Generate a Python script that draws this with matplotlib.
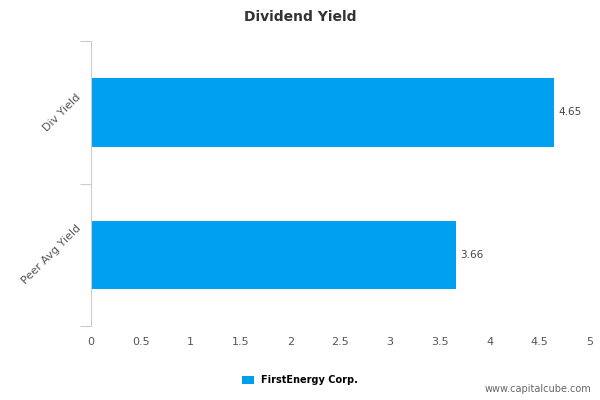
import matplotlib.pyplot as plt

categories = ['Div Yield', 'Peer Avg Yield']
values = [4.65, 3.66]
series_name = 'FirstEnergy Corp.'
xticks = [0, 0.5, 1, 1.5, 2, 2.5, 3, 3.5, 4, 4.5, 5]

fig = plt.figure(figsize=(6, 4), dpi=100)
ax = fig.add_axes([0.152, 0.185, 0.83, 0.712])
pos = [0, 1]
bars = ax.barh(pos, values, height=0.48, color='#00a0f0', label=series_name)
ax.set_ylim(1.5, -0.5)
ax.set_xlim(0, 5)
ax.set_yticks([-0.5, 0.5, 1.5], minor=False)
ax.set_yticklabels([])
ax.set_yticks(pos, minor=True)
ax.set_yticklabels(categories, minor=True, rotation=45, ha='right', va='center',
                   fontsize=8, color='#555555')
ax.tick_params(axis='y', which='minor', length=0, pad=6)
ax.tick_params(axis='y', which='major', length=8, color='#cccccc')
ax.set_xticks(xticks)
ax.set_xticklabels([f'{t:g}' for t in xticks], fontsize=8, color='#555555')
ax.tick_params(axis='x', length=0, pad=8)
for s in ['top', 'right', 'bottom']:
    ax.spines[s].set_visible(False)
ax.spines['left'].set_color('#cccccc')
for v, p in zip(values, pos):
    ax.text(v + 0.04, p, f'{v:.2f}', va='center', fontsize=7.5, color='#444444')
fig.suptitle('Dividend Yield', y=0.975, fontsize=10, fontweight='bold', color='#333333')
fig.legend(handles=[bars], loc='center', bbox_to_anchor=(0.5, 0.05), frameon=False,
           fontsize=7, handlelength=1.2, handleheight=0.9, prop={'weight': 'bold', 'size': 7})
fig.text(0.985, 0.02, 'www.capitalcube.com', ha='right', fontsize=7, color='#666666')
fig.savefig('out.png')
